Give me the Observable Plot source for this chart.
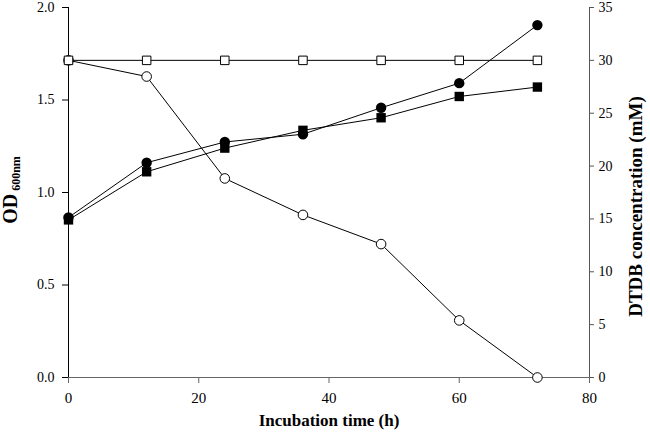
<!DOCTYPE html>
<html>
<head>
<meta charset="utf-8">
<script src="https://cdn.jsdelivr.net/npm/d3@7"></script>
<script src="https://cdn.jsdelivr.net/npm/@observablehq/plot@0.6"></script>
<style>
  html, body { margin: 0; padding: 0; background: #fff; }
  #chart svg { display: block; }
  #chart svg text { font-family: "Liberation Serif", "Times New Roman", serif; font-variant-numeric: normal; }
</style>
</head>
<body>
<div id="chart"></div>
<script>
// Incubation time (h)
const hours = [0, 12, 24, 36, 48, 60, 72];
// OD600 series (left axis)
const odFilledCircle = [0.865, 1.161, 1.273, 1.315, 1.458, 1.591, 1.905];
const odFilledSquare = [0.852, 1.112, 1.240, 1.336, 1.404, 1.519, 1.570];
// DTDB concentration series, mM (right axis)
const dtdbOpenCircle = [30.0, 28.47, 18.83, 15.38, 12.62, 5.40, 0.0];
const dtdbOpenSquare = [30.0, 30.0, 30.0, 30.0, 30.0, 30.0, 30.0];
// tick labels
const timeTicks = [0, 20, 40, 60, 80];
const odTicks = [0, 0.5, 1.0, 1.5, 2.0];
const dtdbTicks = [0, 5, 10, 15, 20, 25, 30, 35];

const odMax = 2.0, dtdbMax = 35;
const k = odMax / dtdbMax; // map DTDB onto OD scale

const rows = (ys, scale) => hours.map((h, i) => ({x: h, y: ys[i] * scale}));
const fc = rows(odFilledCircle, 1);
const fs = rows(odFilledSquare, 1);
const oc = rows(dtdbOpenCircle, k);
const os = rows(dtdbOpenSquare, k);

const serif = "Liberation Serif";

const chart = Plot.plot({
  width: 650,
  height: 439,
  marginLeft: 68,
  marginRight: 61,
  marginTop: 7,
  marginBottom: 62,
  style: {fontFamily: serif, fontSize: "15px", background: "#fff", color: "#000"},
  x: {domain: [0, 80]},
  y: {domain: [0, odMax]},
  marks: [
    Plot.ruleY([0], {stroke: "#666", strokeWidth: 1.2}),
    Plot.ruleX([0], {stroke: "#000"}),
    Plot.ruleX([80], {stroke: "#555"}),
    Plot.axisX(timeTicks, {tickSize: 6, tickPadding: 9, stroke: "#666", fontSize: 15, fontFamily: serif, label: null, tickFormat: d => d}),
    Plot.axisY(odTicks, {anchor: "left", tickSize: 6, tickPadding: 8, fontSize: 14, fontFamily: serif, label: null, tickFormat: d3.format(".1f")}),
    Plot.axisY(dtdbTicks.map(v => v * k), {anchor: "right", tickSize: 4, tickPadding: 5, fontSize: 14, fontFamily: serif, stroke: "#555", label: null, tickFormat: d => Math.round(d / k)}),
    Plot.line(os, {x: "x", y: "y", stroke: "#000", strokeWidth: 1}),
    Plot.line(oc, {x: "x", y: "y", stroke: "#000", strokeWidth: 1}),
    Plot.line(fs, {x: "x", y: "y", stroke: "#000", strokeWidth: 1}),
    Plot.line(fc, {x: "x", y: "y", stroke: "#000", strokeWidth: 1}),
    Plot.dot(fs, {x: "x", y: "y", symbol: "square", r: 5.3, fill: "#000"}),
    Plot.dot(fc, {x: "x", y: "y", symbol: "circle", r: 5.2, fill: "#000"}),
    Plot.dot(oc, {x: "x", y: "y", symbol: "circle", r: 4.8, fill: "#fff", stroke: "#000", strokeWidth: 1}),
    Plot.dot(os, {x: "x", y: "y", symbol: "square", r: 4.8, fill: "#fff", stroke: "#000", strokeWidth: 1}),
    Plot.text(["Incubation time (h)"], {frameAnchor: "bottom", dy: 48, fontWeight: "bold", fontSize: 17, fontFamily: serif}),
    Plot.text(["DTDB concentration (mM)"], {frameAnchor: "right", dx: 46, dy: 14, rotate: -90, textAnchor: "middle", lineAnchor: "middle", fontWeight: "bold", fontSize: 19, fontFamily: serif})
  ]
});

document.getElementById("chart").appendChild(chart);

// Left axis title with subscript
const svg = d3.select(chart);
const t = svg.append("text")
  .attr("transform", "translate(17,190) rotate(-90)")
  .attr("text-anchor", "middle")
  .attr("font-family", serif)
  .attr("font-weight", "bold")
  .attr("fill", "#000");
t.append("tspan").attr("font-size", 20).text("OD");
t.append("tspan").attr("font-size", 12).attr("dx", 3).attr("dy", 3).text("600nm");
</script>
</body>
</html>
